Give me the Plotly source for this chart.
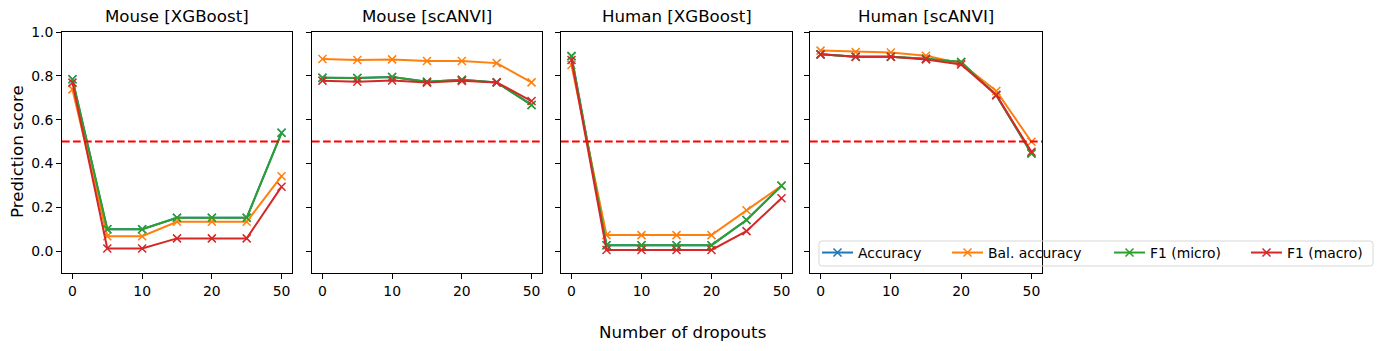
import plotly.graph_objects as go

dropouts = ["0", "5", "10", "15", "20", "25", "50"]
tick_labels = ["0", "10", "20", "50"]
panels = ["Mouse [XGBoost]", "Mouse [scANVI]", "Human [XGBoost]", "Human [scANVI]"]
metrics = ["Accuracy", "Bal. accuracy", "F1 (micro)", "F1 (macro)"]

mouse_xgb_acc = [0.784, 0.100, 0.100, 0.152, 0.152, 0.152, 0.540]
mouse_xgb_bal = [0.738, 0.068, 0.068, 0.134, 0.134, 0.134, 0.342]
mouse_xgb_f1mi = [0.784, 0.100, 0.100, 0.152, 0.152, 0.152, 0.540]
mouse_xgb_f1ma = [0.769, 0.012, 0.012, 0.058, 0.058, 0.058, 0.294]

mouse_scanvi_acc = [0.791, 0.790, 0.795, 0.773, 0.782, 0.770, 0.667]
mouse_scanvi_bal = [0.877, 0.872, 0.875, 0.868, 0.868, 0.858, 0.770]
mouse_scanvi_f1mi = [0.791, 0.790, 0.795, 0.773, 0.782, 0.770, 0.667]
mouse_scanvi_f1ma = [0.778, 0.773, 0.779, 0.769, 0.777, 0.770, 0.685]

human_xgb_acc = [0.890, 0.027, 0.027, 0.027, 0.027, 0.142, 0.298]
human_xgb_bal = [0.849, 0.073, 0.073, 0.073, 0.073, 0.186, 0.298]
human_xgb_f1mi = [0.890, 0.027, 0.027, 0.027, 0.027, 0.142, 0.298]
human_xgb_f1ma = [0.872, 0.005, 0.005, 0.005, 0.005, 0.091, 0.241]

human_scanvi_acc = [0.898, 0.887, 0.887, 0.878, 0.863, 0.711, 0.446]
human_scanvi_bal = [0.915, 0.909, 0.906, 0.892, 0.857, 0.731, 0.499]
human_scanvi_f1mi = [0.898, 0.887, 0.887, 0.878, 0.863, 0.711, 0.446]
human_scanvi_f1ma = [0.898, 0.887, 0.887, 0.875, 0.852, 0.713, 0.453]

threshold = 0.5

data = [
    [mouse_xgb_acc, mouse_xgb_bal, mouse_xgb_f1mi, mouse_xgb_f1ma],
    [mouse_scanvi_acc, mouse_scanvi_bal, mouse_scanvi_f1mi, mouse_scanvi_f1ma],
    [human_xgb_acc, human_xgb_bal, human_xgb_f1mi, human_xgb_f1ma],
    [human_scanvi_acc, human_scanvi_bal, human_scanvi_f1mi, human_scanvi_f1ma],
]
colors = ["#1f77b4", "#ff7f0e", "#2ca02c", "#d62728"]

W, H = 1382, 351
x_px = [(62, 292), (312, 542), (561, 792), (810, 1042)]
y_dom = [1 - 273 / H, 1 - 32 / H]
legend_item_px = [817, 947, 1109, 1246]
legend_names = ["legend", "legend2", "legend3", "legend4"]

FONT = "DejaVu Sans"
TICK = 13.9
BIG = 16.67
fig = go.Figure()
xpos = list(range(len(dropouts)))
tickvals = [dropouts.index(t) for t in tick_labels]

for p, (name, series) in enumerate(zip(panels, data)):
    xa = "x" if p == 0 else f"x{p+1}"
    ya = "y" if p == 0 else f"y{p+1}"
    for m, (mname, vals) in enumerate(zip(metrics, series)):
        fig.add_trace(go.Scatter(
            x=xpos, y=vals, mode="lines+markers", name=mname,
            legend=legend_names[m], showlegend=(p == 3),
            line=dict(color=colors[m], width=2),
            marker=dict(symbol="x-thin", size=8, line=dict(color=colors[m], width=1.5)),
            xaxis=xa, yaxis=ya,
        ))
    axkey = "xaxis" if p == 0 else f"xaxis{p+1}"
    aykey = "yaxis" if p == 0 else f"yaxis{p+1}"
    fig.layout[axkey] = dict(
        domain=[x_px[p][0] / W, x_px[p][1] / W], anchor=ya, automargin=False,
        range=[-0.3, 6.3], tickmode="array", tickvals=tickvals, ticktext=tick_labels,
        showgrid=False, zeroline=False, showline=True, linecolor="black", linewidth=1,
        mirror=True, ticks="outside", ticklen=5, tickcolor="black",
        tickfont=dict(family=FONT, size=TICK, color="black"),
    )
    fig.layout[aykey] = dict(
        domain=y_dom, anchor=xa, range=[-0.1, 1.0], automargin=False,
        tickmode="array", tickvals=[0, 0.2, 0.4, 0.6, 0.8, 1.0],
        ticktext=["0.0", "0.2", "0.4", "0.6", "0.8", "1.0"],
        showticklabels=(p == 0),
        showgrid=False, zeroline=False, showline=True, linecolor="black", linewidth=1,
        mirror=True, ticks="outside", ticklen=5, tickcolor="black",
        tickfont=dict(family=FONT, size=TICK, color="black"),
    )
    fig.add_shape(type="line", xref=f"{xa} domain", yref=ya, x0=0, x1=1,
                  y0=threshold, y1=threshold,
                  line=dict(color="red", width=2, dash="7.7px,3.3px"))
    fig.add_annotation(text=name, xref="paper", yref="paper",
                       x=(x_px[p][0] + x_px[p][1]) / 2 / W, y=1 - 17 / H,
                       showarrow=False, xanchor="center", yanchor="middle",
                       font=dict(family=FONT, size=BIG, color="black"))

fig.add_annotation(text="Prediction score", xref="paper", yref="paper",
                   x=18 / W, y=1 - 152 / H, textangle=-90, showarrow=False,
                   xanchor="center", yanchor="middle",
                   font=dict(family=FONT, size=BIG, color="black"))
fig.add_annotation(text="Number of dropouts", xref="paper", yref="paper",
                   x=682 / W, y=1 - 332 / H, showarrow=False,
                   xanchor="center", yanchor="middle",
                   font=dict(family=FONT, size=BIG, color="black"))

# legend frame (rounded rectangle)
lx0, lx1, ly0, ly1, r = 819, 1373, 241, 266, 3
def px(x):
    return x / W
def py(y):
    return 1 - y / H
path = (f"M{px(lx0 + r)},{py(ly0)} L{px(lx1 - r)},{py(ly0)} "
        f"Q{px(lx1)},{py(ly0)} {px(lx1)},{py(ly0 + r)} L{px(lx1)},{py(ly1 - r)} "
        f"Q{px(lx1)},{py(ly1)} {px(lx1 - r)},{py(ly1)} L{px(lx0 + r)},{py(ly1)} "
        f"Q{px(lx0)},{py(ly1)} {px(lx0)},{py(ly1 - r)} L{px(lx0)},{py(ly0 + r)} "
        f"Q{px(lx0)},{py(ly0)} {px(lx0 + r)},{py(ly0)} Z")
fig.add_shape(type="path", path=path, xref="paper", yref="paper", layer="above",
              line=dict(color="#d6d6d6", width=1), fillcolor="rgba(255,255,255,0)")

legend_common = dict(orientation="h", xanchor="left", yanchor="middle",
                     y=1 - 253 / H, bgcolor="rgba(0,0,0,0)", borderwidth=0,
                     itemwidth=31,
                     font=dict(family=FONT, size=TICK, color="black"))
layout_legends = {}
for ln, lxp in zip(legend_names, legend_item_px):
    layout_legends[ln] = dict(legend_common, x=lxp / W)

fig.update_layout(
    template="none",
    width=W, height=H, margin=dict(l=0, r=0, t=0, b=0, pad=0),
    paper_bgcolor="white", plot_bgcolor="white",
    **layout_legends,
)

fig.write_html("out.html")
